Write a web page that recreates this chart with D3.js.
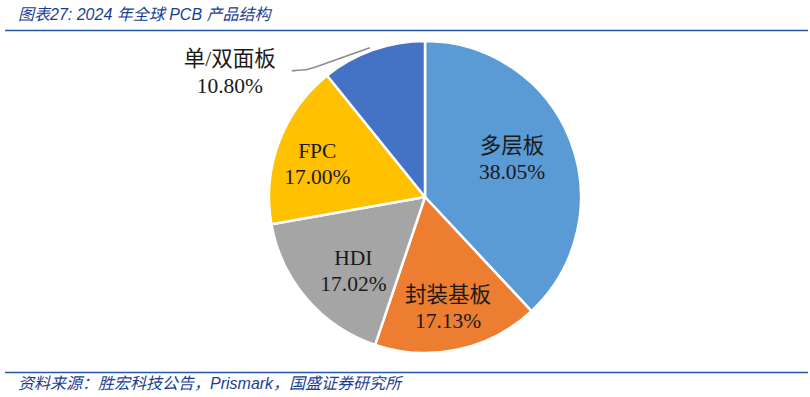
<!DOCTYPE html>
<html><head><meta charset="utf-8">
<script src="https://cdn.jsdelivr.net/npm/d3@7/dist/d3.min.js"></script>
<style>
html,body{margin:0;padding:0;background:#fff;}
svg{display:block;}
</style></head>
<body>
<svg id="chart" width="810" height="397"></svg>
<script>
const categories = ["多层板", "封装基板", "HDI", "FPC", "单/双面板"];
const shares = [38.05, 17.13, 17.02, 17.00, 10.80];
const shareLabels = ["38.05%", "17.13%", "17.02%", "17.00%", "10.80%"];
const colors = ["#5B9BD5", "#ED7D31", "#A5A5A5", "#FFC000", "#4472C4"];
const titleText = "图表27:  2024 年全球 PCB 产品结构";
const sourceText = "资料来源：胜宏科技公告，Prismark，国盛证券研究所";

const W = 810, H = 397;
const cx = 425, cy = 197, R = 156;
const svg = d3.select("#chart");

// title & source
svg.append("text").attr("x", 18).attr("y", 20)
  .attr("font-family", "'Liberation Sans','Noto Sans CJK SC',sans-serif")
  .attr("font-size", 16).attr("font-style", "italic").attr("fill", "#1A3E94")
  .text(titleText);
svg.append("line").attr("x1", 5).attr("x2", 808).attr("y1", 30.5).attr("y2", 30.5)
  .attr("stroke", "#2457A8").attr("stroke-width", 1.5);
svg.append("line").attr("x1", 5).attr("x2", 808).attr("y1", 372.5).attr("y2", 372.5)
  .attr("stroke", "#2457A8").attr("stroke-width", 1.5);
svg.append("text").attr("x", 18).attr("y", 389)
  .attr("font-family", "'Liberation Sans','Noto Sans CJK SC',sans-serif")
  .attr("font-size", 16).attr("font-style", "italic").attr("fill", "#1A3E94")
  .text(sourceText);

const data = categories.map((c, i) => ({name: c, value: shares[i], label: shareLabels[i], color: colors[i]}));
const pie = d3.pie().value(d => d.value).sort(null);
const arcs = pie(data);
const arc = d3.arc().innerRadius(0).outerRadius(R);
const g = svg.append("g").attr("transform", `translate(${cx},${cy})`);

g.selectAll("path.slice").data(arcs).enter().append("path")
  .attr("class", "slice")
  .attr("d", arc)
  .attr("fill", d => d.data.color)
  .attr("stroke", "#fff").attr("stroke-width", 2.5).attr("stroke-linejoin", "round");

// inside labels
const labelRadiusFrac = [0.6, 0.76, 0.69, 0.71];
const labelNudge = [[0, -2], [-2, -3], [10, 6], [-4, 8]];
const fontFam = "'Liberation Serif','Noto Sans CJK SC',serif";
arcs.slice(0, 4).forEach((a, i) => {
  const ang = (a.startAngle + a.endAngle) / 2;
  const r = R * labelRadiusFrac[i];
  const x = r * Math.sin(ang) + labelNudge[i][0];
  const y = -r * Math.cos(ang) + labelNudge[i][1];
  const t = g.append("text").attr("text-anchor", "middle")
    .attr("font-family", fontFam).attr("font-size", 21.5).attr("fill", "#1a1a1a");
  t.append("tspan").attr("x", x).attr("y", y - 8).text(a.data.name);
  t.append("tspan").attr("x", x).attr("y", y + 18).text(a.data.label);
});

// outside label with leader
const last = arcs[4];
const angL = (last.startAngle + last.endAngle) / 2 - 0.015;
const p0 = [R * 1.02 * Math.sin(angL), -R * 1.02 * Math.cos(angL)];
const p1 = [p0[0] - 63, p0[1] + 22];
const p2 = [p1[0] - 15, p1[1] + 1];
g.append("path")
  .attr("d", d3.line().curve(d3.curveBasis)([p0, [p1[0]+4, p1[1]-1], p1, p2]))
  .attr("fill", "none").attr("stroke", "#8c8c8c").attr("stroke-width", 1.6);
const tl = g.append("text").attr("text-anchor", "middle")
  .attr("font-family", fontFam).attr("font-size", 21.5).attr("fill", "#1a1a1a");
tl.append("tspan").attr("x", p2[0] - 62).attr("y", p2[1] - 5).text(last.data.name);
tl.append("tspan").attr("x", p2[0] - 62).attr("y", p2[1] + 22).text(last.data.label);
</script>
</body></html>
